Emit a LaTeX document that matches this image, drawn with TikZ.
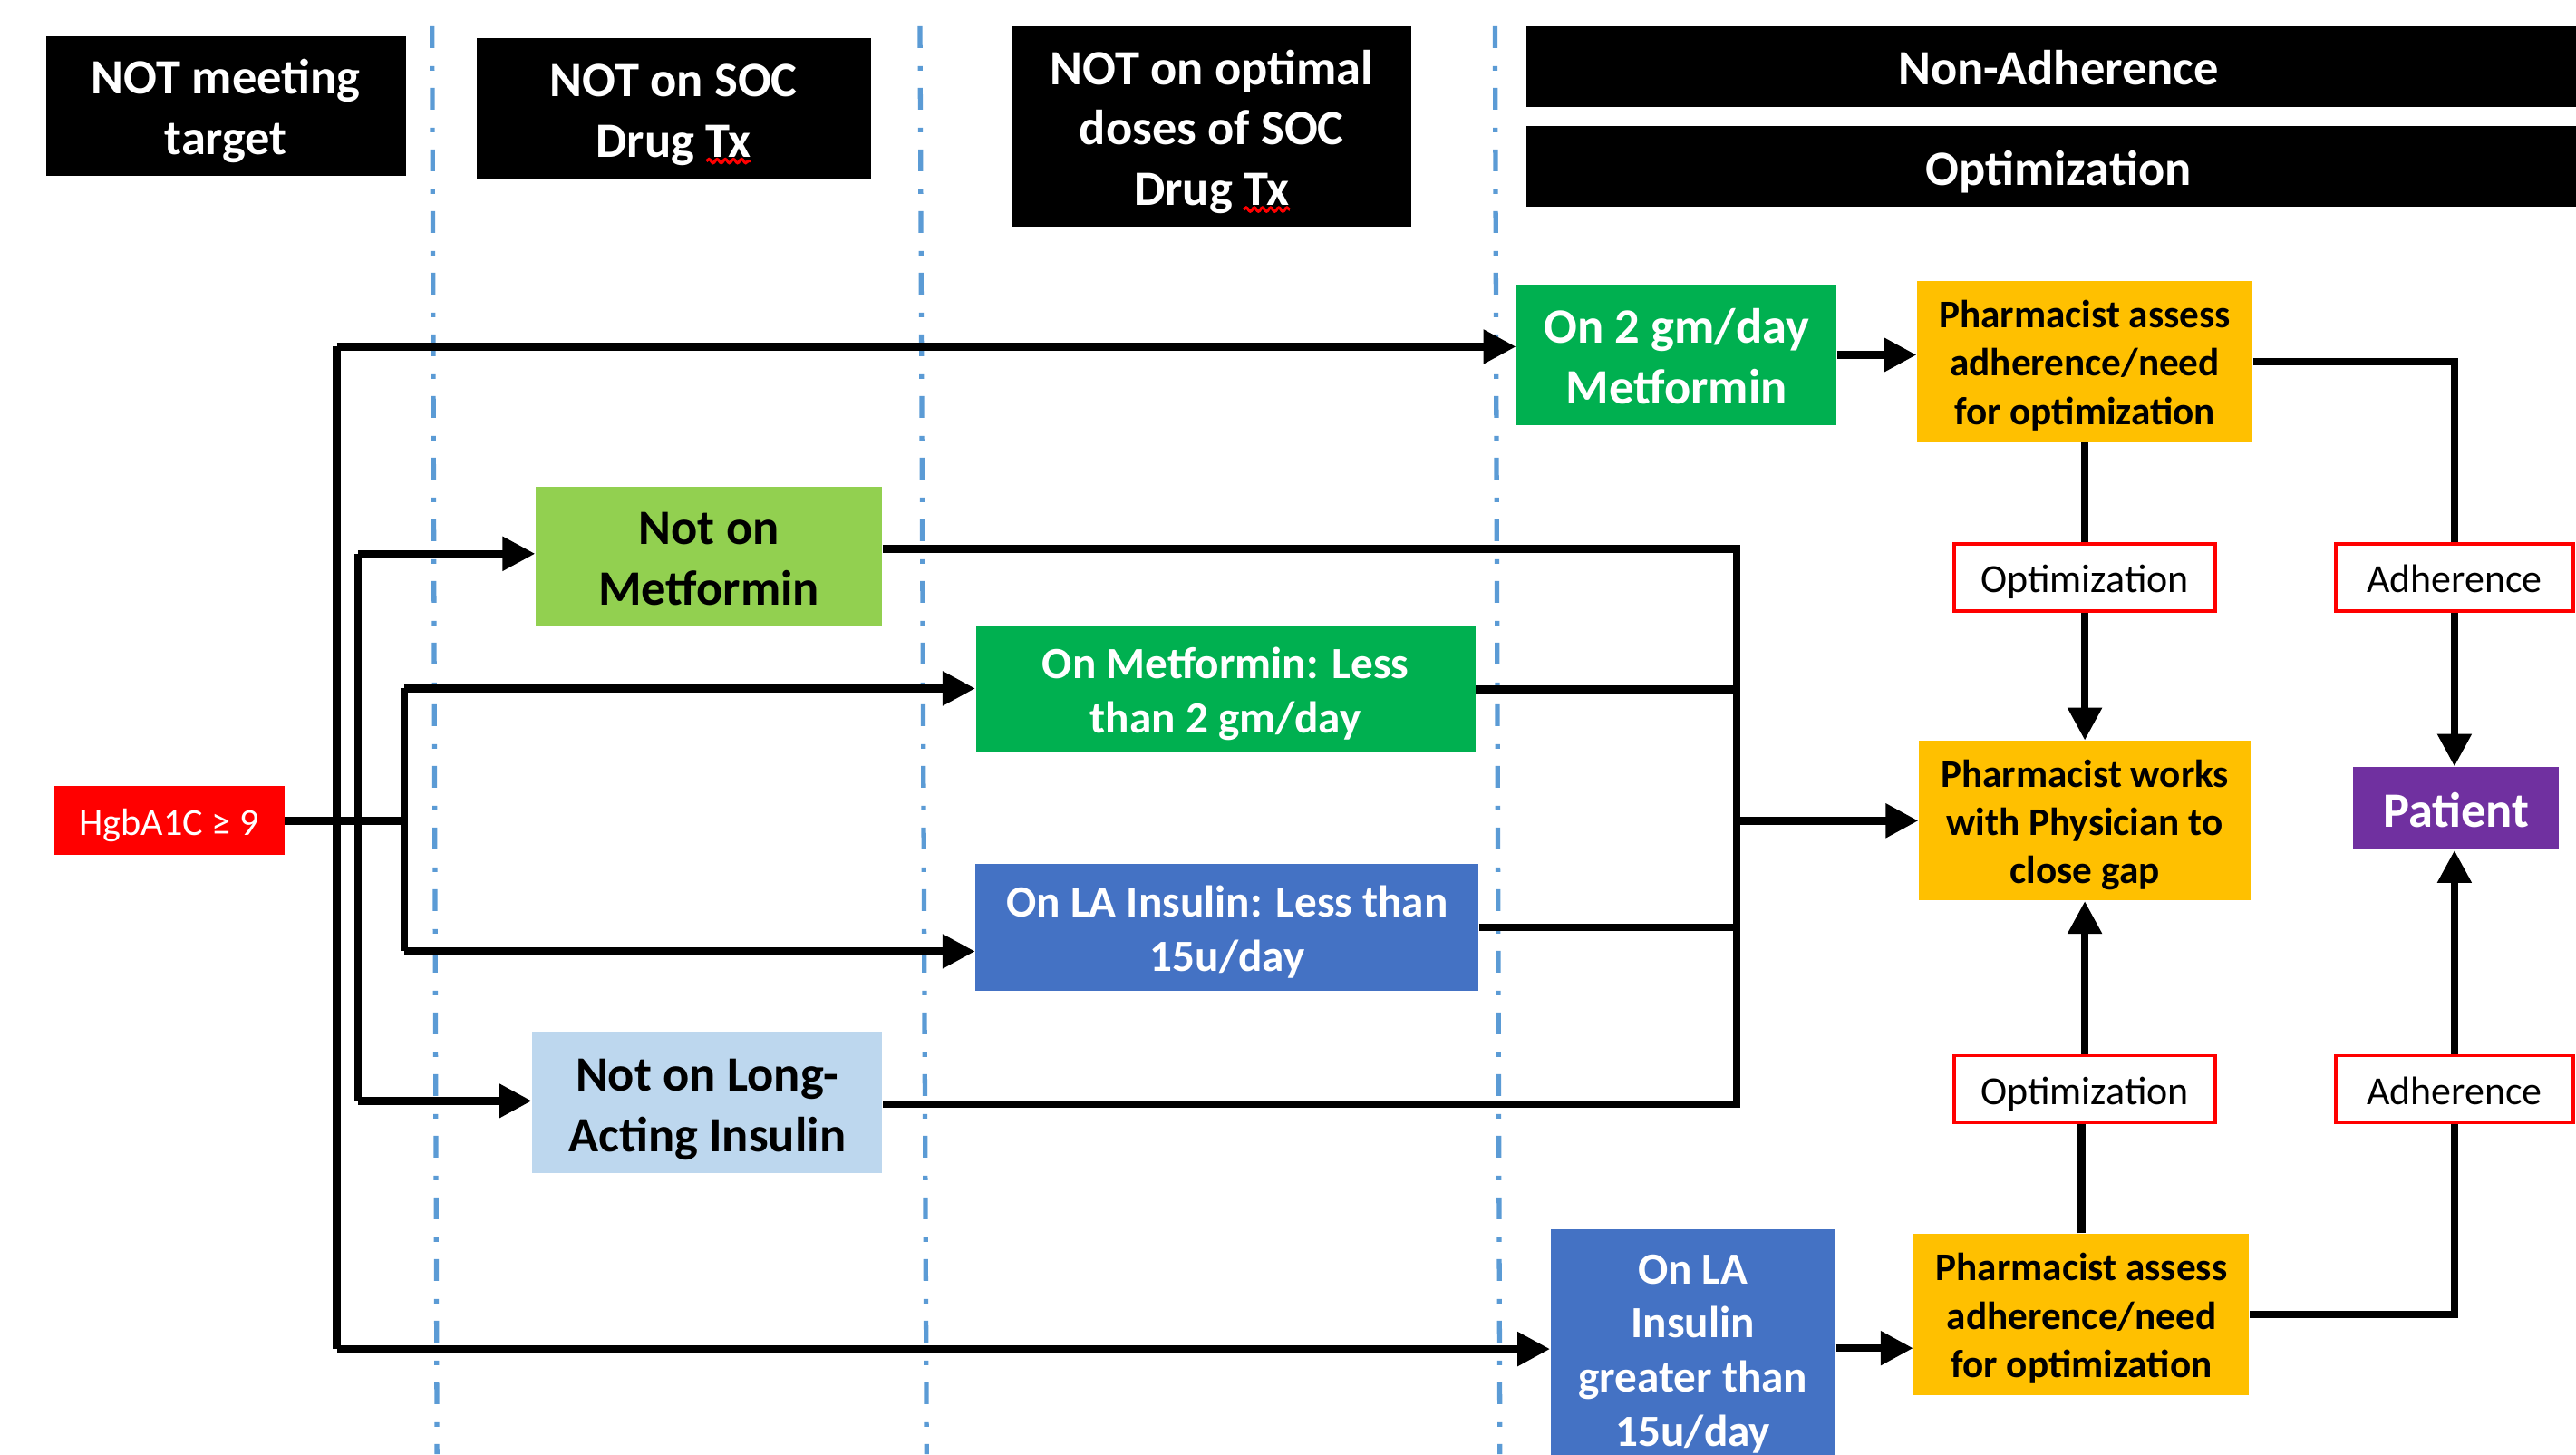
\documentclass[tikz,border=0pt]{standalone}
\usepackage{fontspec}
\setmainfont{Carlito}
\usepackage{tikz}
\usetikzlibrary{arrows.meta,decorations.pathmorphing}
\definecolor{hgbred}{RGB}{255, 0, 0}
\definecolor{ltgreen}{RGB}{146, 208, 80}
\definecolor{midgreen}{RGB}{0, 176, 80}
\definecolor{insblue}{RGB}{68, 114, 196}
\definecolor{paleblue}{RGB}{189, 215, 238}
\definecolor{amber}{RGB}{255, 192, 0}
\definecolor{patpurple}{RGB}{112, 48, 160}
\definecolor{sepblue}{RGB}{91, 155, 213}
\newcommand{\fntbig}{\bfseries\fontsize{15.5}{19}\selectfont}
\newcommand{\fntmid}{\bfseries\fontsize{14}{17}\selectfont}
\newcommand{\fntsmall}{\bfseries\fontsize{12.3}{15.2}\selectfont}
\newcommand{\fntlbl}{\fontsize{12.5}{15}\selectfont}
% top strut for the first line of a box
\newcommand{\tp}{\rule{0pt}{1em}}

\begin{document}
\begin{tikzpicture}[x=0.018125cm, y=-0.018125cm,
    txt/.style={align=center, inner sep=0pt,
        execute at begin node={\tp},
        execute at end node={\rule[-0.25em]{0pt}{0.25em}}},
    hdr/.style={txt, fill=black, text=white, font=\fntbig},
    box/.style={txt},
    lbl/.style={txt, draw=hgbred, line width=1pt, fill=white, font=\fntlbl,
        minimum height=0.74cm},
    link/.style={line width=2.4pt},
    arr/.style={link, -{Triangle[length=0.36cm, width=0.36cm]}},
    sep/.style={sepblue, line width=1.5pt,
        dash pattern=on 0.24cm off 0.2cm on 0.05cm off 0.19cm},
    spell/.style={hgbred, line width=0.9pt, decorate,
        decoration={snake, segment length=0.09cm, amplitude=0.6pt}}]
    \clip (0,0) rectangle (1568,885);

    % Column separators
    \foreach \xa/\xb in {263/266, 560/564, 910/913}
        \draw[sep] (\xa, 16) -- (\xb, 885);

    % Column headers
    \node[hdr, minimum width=3.97cm, minimum height=1.54cm] (hTarget) at (137.5, 64.5) {\tp NOT meeting\\target};
    \node[hdr, minimum width=4.35cm, minimum height=1.56cm] (hSoc) at (410, 66) {\tp NOT on SOC\\Drug Tx};
    \node[hdr, minimum width=4.40cm, minimum height=2.21cm] (hDose) at (737.5, 77) {\tp NOT on optimal\\doses of SOC\\Drug Tx};
    \node[hdr, minimum width=11.75cm, minimum height=0.89cm] (hAdh) at (1253, 40.5) {Non-Adherence};
    \node[hdr, minimum width=11.75cm, minimum height=0.89cm] (hOpt) at (1253, 101.5) {Optimization};
    % spell-check marks under "Tx"
    \draw[spell] (430, 98) -- (457, 98);
    \draw[spell] (757, 127.5) -- (785, 127.5);

    % Start
    \node[box, fill=hgbred, text=white, font=\fontsize{12}{14}\selectfont,
        minimum width=2.54cm, minimum height=0.76cm] (hgb) at (103, 499.5) {HgbA1C ≥ 9};

    % Drug therapy gaps
    \node[box, fill=ltgreen, font=\fntbig, minimum width=3.82cm, minimum height=1.54cm]
        (notMet) at (431.5, 338.5) {\tp Not on\\Metformin};
    \node[box, fill=midgreen, text=white, font=\fntmid, minimum width=5.51cm, minimum height=1.40cm]
        (metLess) at (746, 419.5) {\tp On Metformin: Less\\than 2 gm/day};
    \node[box, fill=insblue, text=white, font=\fntmid, minimum width=5.55cm, minimum height=1.40cm]
        (insLess) at (747, 564.5) {\tp On LA Insulin: Less than\\15u/day};
    \node[box, fill=paleblue, font=\fntbig, minimum width=3.86cm, minimum height=1.56cm]
        (notIns) at (430.5, 671) {\tp Not on Long-\\Acting Insulin};

    % Optimal doses
    \node[box, fill=midgreen, text=white, font=\fntbig, minimum width=3.53cm, minimum height=1.56cm]
        (met2) at (1020.5, 216) {\tp On 2 gm/day\\Metformin};
    \node[box, fill=insblue, text=white, font=\fntmid, minimum width=3.14cm, minimum height=2.63cm]
        (insMore) at (1030.5, 820.5) {\tp On LA\\Insulin\\greater than\\15u/day};

    % Pharmacist
    \node[box, fill=amber, font=\fntsmall, minimum width=3.70cm, minimum height=1.78cm]
        (assessTop) at (1269, 220) {\tp Pharmacist assess\\adherence/need\\for optimization};
    \node[box, fill=amber, font=\fntsmall, minimum width=3.66cm, minimum height=1.76cm]
        (works) at (1269, 499.5) {\tp Pharmacist works\\with Physician to\\close gap};
    \node[box, fill=amber, font=\fntsmall, minimum width=3.70cm, minimum height=1.78cm]
        (assessBot) at (1267, 800) {\tp Pharmacist assess\\adherence/need\\for optimization};
    \node[box, fill=patpurple, text=white, font=\fntbig, minimum width=2.27cm, minimum height=0.91cm]
        (patient) at (1495, 492) {Patient};

    % Labels
    \node[lbl, minimum width=2.88cm] (optTop) at (1269, 351.5) {Optimization};
    \node[lbl, minimum width=2.62cm] (adhTop) at (1494, 351.5) {Adherence};
    \node[lbl, minimum width=2.88cm] (optBot) at (1269, 663) {Optimization};
    \node[lbl, minimum width=2.62cm] (adhBot) at (1494, 663) {Adherence};

    % Branching trunks
    \coordinate (outerT) at (205, 211);
    \coordinate (outerB) at (205, 821);
    \coordinate (midT) at (218, 337);
    \coordinate (midB) at (218, 670);
    \coordinate (innT) at (246, 419);
    \coordinate (innB) at (246, 579);
    \draw[link] (hgb.east) -- (innT |- hgb.east);
    \draw[link] (outerT) -- (outerB);
    \draw[link] (midT) -- (midB);
    \draw[link] (innT) -- (innB);
    \draw[arr] (outerT) -- (outerT -| met2.west);
    \draw[arr] (outerB) -- (outerB -| insMore.west);
    \draw[arr] (midT) -- (midT -| notMet.west);
    \draw[arr] (midB) -- (midB -| notIns.west);
    \draw[arr] (innT) -- (innT -| metLess.west);
    \draw[arr] (innB) -- (innB -| insLess.west);

    % Joining trunk
    \coordinate (joinT) at (1057, 334);
    \coordinate (joinB) at (1057, 672);
    \draw[link] (notMet.east |- joinT) -- (joinT) -- (joinB) -- (notIns.east |- joinB);
    \draw[link] (metLess.east) -- (metLess.east -| joinT);
    \draw[link] (insLess.east) -- (insLess.east -| joinT);
    \draw[arr] (joinT |- works.west) -- (works.west);

    % Pharmacist flow
    \draw[arr] (met2.east) -- (met2.east -| assessTop.west);
    \draw[arr] (insMore.east) -- (insMore.east -| assessBot.west);
    \draw[link] (assessTop.south) -- (optTop.north);
    \draw[arr] (optTop.south) -- (works.north);
    \draw[link] (assessBot.north) -- (assessBot.north |- optBot.south);
    \draw[arr] (optBot.north) -- (works.south);
    \draw[link] (assessTop.east) -| (adhTop.north);
    \draw[arr] (adhTop.south) -- (patient.north -| adhTop.south);
    \draw[link] (assessBot.east) -| (adhBot.south);
    \draw[arr] (adhBot.north) -- (patient.south -| adhBot.north);
\end{tikzpicture}
\end{document}
